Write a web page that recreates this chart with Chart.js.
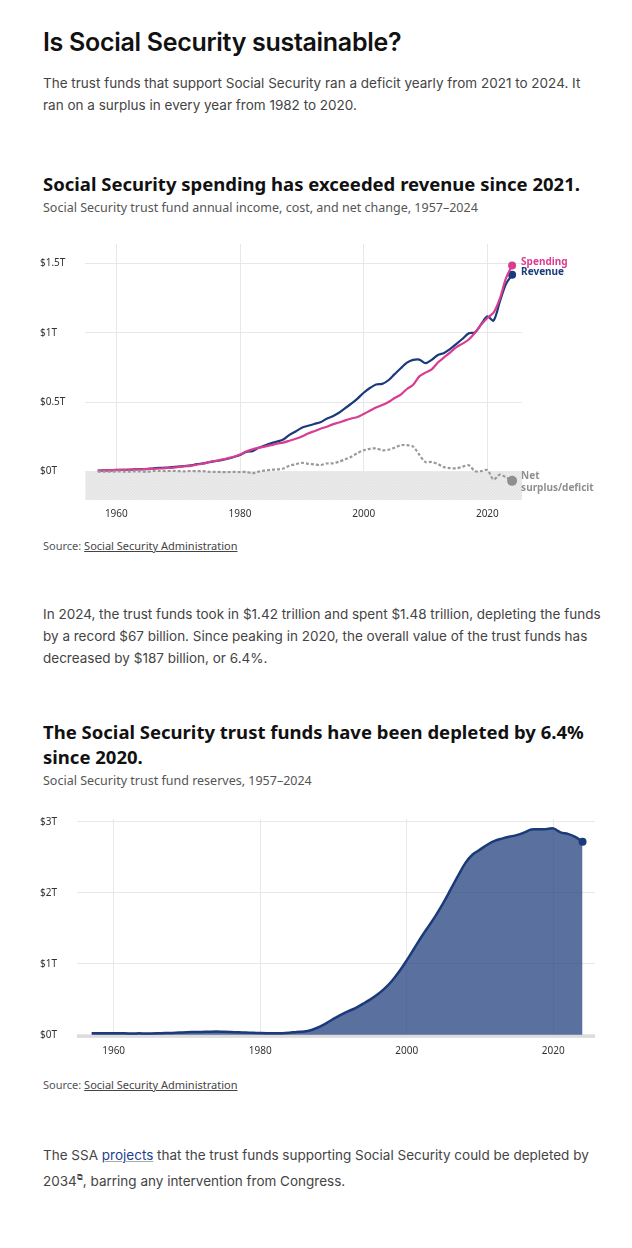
<!DOCTYPE html>
<html>
<head>
<meta charset="utf-8">
<script src="https://cdn.jsdelivr.net/npm/chart.js@4"></script>
<style>
  body { margin: 0; background: #fff; font-family: Inter, "Noto Sans", sans-serif; color: #222; }
  .page { width: 560px; margin-left: 43px; }
  h1 { font-size: 25px; font-weight: 600; margin: 27px 0 0; letter-spacing: -0.3px; color: #111; }
  p.txt { font-size: 13.5px; line-height: 22px; color: #444; margin: 12px 0 0; }
  h2 { font-family: "Noto Sans", sans-serif; font-size: 18.5px; font-weight: 700; margin: 0; line-height: 25px; color: #111; }
  .sub { font-family: "Noto Sans", sans-serif; font-size: 12.5px; color: #555; margin-top: 3px; }
  .src { font-family: "Noto Sans", sans-serif; font-size: 11px; color: #555; }
  .src u { color: #444; }
  .box { position: relative; margin-left: -3px; }
</style>
</head>
<body>
<div class="page">
  <h1>Is Social Security sustainable?</h1>
  <p class="txt" style="margin-top:15px">The trust funds that support Social Security ran a deficit yearly from 2021 to 2024. It ran on a surplus in every year from 1982 to 2020.</p>

  <h2 style="margin-top:55px">Social Security spending has exceeded revenue since 2021.</h2>
  <div class="sub">Social Security trust fund annual income, cost, and net change, 1957–2024</div>
  <div class="box" style="width:560px;height:300px;margin-top:12px"><canvas id="c1"></canvas></div>
  <div class="src" style="margin-top:10px">Source: <u>Social Security Administration</u></div>

  <p class="txt" style="margin-top:50px">In 2024, the trust funds took in $1.42 trillion and spent $1.48 trillion, depleting the funds by a record $67 billion. Since peaking in 2020, the overall value of the trust funds has decreased by $187 billion, or 6.4%.</p>

  <h2 style="margin-top:50px">The Social Security trust funds have been depleted by 6.4% since 2020.</h2>
  <div class="sub">Social Security trust fund reserves, 1957–2024</div>
  <div class="box" style="width:560px;height:262px;margin-top:14px"><canvas id="c2"></canvas></div>
  <div class="src" style="margin-top:12px">Source: <u>Social Security Administration</u></div>

  <p class="txt" style="margin-top:52px">The SSA <u style="color:#1f3f8f;text-decoration-color:#aaa">projects</u> that the trust funds supporting Social Security could be depleted by 2034<sup style="font-size:8px">⧉</sup>, barring any intervention from Congress.</p>
</div>

<script>
// 연도 1957–2024, 단위: 조 달러
const years = [];
for (let y = 1957; y <= 2024; y++) years.push(y);

const revenue = [
  .007,.008,.009,.012,.012,.013,.016,.017,.017,.024,.027,.028,.032,
  .036,.040,.044,.053,.059,.067,.075,.082,.092,.105,
  .119,.142,.147,.171,.187,.203,.216,.231,.264,.289,
  .316,.330,.343,.355,.381,.399,.424,.457,.489,.526,
  .568,.602,.628,.632,.658,.702,.745,.785,.805,.807,
  .781,.805,.840,.855,.884,.920,.957,.997,1.003,1.062,
  1.118,1.088,1.222,1.351,1.418
];
const spending = [
  .007,.008,.010,.011,.012,.014,.015,.016,.019,.020,.022,.025,.027,
  .033,.038,.040,.050,.056,.069,.077,.086,.096,.107,
  .123,.144,.160,.171,.180,.190,.201,.209,.222,.236,
  .253,.274,.291,.308,.323,.340,.353,.369,.382,.393,
  .415,.438,.461,.479,.501,.530,.555,.595,.625,.686,
  .713,.736,.786,.823,.859,.897,.922,.952,1.000,1.059,
  1.107,1.145,1.244,1.392,1.485
];
const net = [
  0,0,-.001,.001,0,-.001,.001,.001,-.002,.004,.005,.003,.005,
  .003,.002,.004,.003,.003,-.002,-.002,-.004,-.004,-.002,
  -.004,-.002,-.013,0,.007,.013,.015,.022,.042,.053,
  .063,.056,.052,.047,.058,.059,.071,.088,.107,.133,
  .153,.164,.167,.153,.157,.172,.190,.190,.180,.121,
  .068,.069,.054,.032,.025,.023,.035,.045,.003,.003,
  .011,-.057,-.022,-.041,-.067
];
const reserves = [
  .023,.023,.022,.022,.022,.021,.021,.021,.020,.022,.026,.028,.032,
  .038,.040,.042,.044,.046,.044,.041,.036,.032,.030,
  .026,.024,.023,.024,.031,.042,.047,.069,.109,.163,
  .225,.281,.331,.378,.436,.496,.567,.655,.763,.896,
  1.049,1.213,1.378,1.531,1.687,1.859,2.048,2.238,2.419,2.540,
  2.609,2.678,2.732,2.764,2.790,2.813,2.848,2.892,2.895,2.897,
  2.908,2.852,2.830,2.788,2.721
];
const xTicks = [1960, 1980, 2000, 2020];
const yTicks1 = [0, 0.5, 1, 1.5];
const yTicks2 = [0, 1, 2, 3];

const NAVY = '#1b3a7a', PINK = '#d93d92', GREY = '#8f8f8f';
const pts = arr => arr.map((v, i) => ({ x: years[i], y: v }));
const lastDot = r => years.map((_, i) => i === years.length - 1 ? r : 0);
const tlabel = v => '$' + v + 'T';

// 0 아래 빗금 영역
const hatchPlugin = {
  id: 'hatch',
  beforeDatasetsDraw(chart) {
    const { ctx, chartArea: a, scales: { y } } = chart;
    const y0 = y.getPixelForValue(0);
    ctx.save();
    ctx.fillStyle = '#ececec';
    ctx.fillRect(a.left, y0, a.right - a.left, a.bottom - y0);
    ctx.beginPath();
    ctx.rect(a.left, y0, a.right - a.left, a.bottom - y0);
    ctx.clip();
    ctx.strokeStyle = '#d6d6d6';
    ctx.lineWidth = 0.6;
    for (let x = a.left - 40; x < a.right + 40; x += 3) {
      ctx.beginPath(); ctx.moveTo(x, a.bottom); ctx.lineTo(x + 30, y0); ctx.stroke();
    }
    ctx.restore();
  }
};

// 끝점 라벨
const endLabels = {
  id: 'endLabels',
  afterDatasetsDraw(chart) {
    const { ctx, scales: { x, y } } = chart;
    const px = x.getPixelForValue(2024) + 9;
    ctx.save();
    ctx.font = 'bold 10px "Noto Sans", sans-serif';
    ctx.textBaseline = 'middle';
    ctx.fillStyle = PINK; ctx.fillText('Spending', px, y.getPixelForValue(spending[67]) - 3);
    ctx.fillStyle = NAVY; ctx.fillText('Revenue', px, y.getPixelForValue(revenue[67]) - 3);
    ctx.fillStyle = GREY;
    ctx.fillText('Net', px, y.getPixelForValue(net[67]) - 5);
    ctx.fillText('surplus/deficit', px, y.getPixelForValue(net[67]) + 7);
    ctx.restore();
  }
};

function xScale(max) {
  return {
    type: 'linear', min: 1955, max: max,
    afterBuildTicks: s => { s.ticks = xTicks.map(v => ({ value: v })); },
    ticks: { color: '#333', font: { family: 'Noto Sans', size: 10 }, callback: v => String(v), padding: 8 },
    grid: { color: '#e8e8e8', drawTicks: false },
    border: { display: false }
  };
}
function yScale(min, max, tk) {
  return {
    min: min, max: max,
    afterBuildTicks: s => { s.ticks = tk.map(v => ({ value: v })); },
    ticks: { color: '#333', font: { family: 'Noto Sans', size: 10 }, callback: tlabel, crossAlign: 'far', padding: 10 },
    grid: { color: '#e8e8e8', drawTicks: false },
    border: { display: false }
  };
}
const base = {
  responsive: true, maintainAspectRatio: false, animation: false,
  plugins: { legend: { display: false }, tooltip: { enabled: false } },
};

new Chart(document.getElementById('c1'), {
  type: 'line',
  data: { datasets: [
    { data: pts(net), borderColor: '#9a9a9a', borderWidth: 2.2, borderDash: [3, 2], pointRadius: lastDot(5), pointBackgroundColor: GREY, pointBorderWidth: 0, tension: 0.3 },
    { data: pts(spending), borderColor: PINK, borderWidth: 2.2, pointRadius: lastDot(4), pointBackgroundColor: PINK, pointBorderWidth: 0, tension: 0.3 },
    { data: pts(revenue), borderColor: NAVY, borderWidth: 2.2, pointRadius: lastDot(4), pointBackgroundColor: NAVY, pointBorderWidth: 0, tension: 0.3 }
  ]},
  options: { ...base, layout: { padding: { right: 78, top: 4 } },
    scales: { x: xScale(2025.6), y: yScale(-0.205, 1.64, yTicks1) } },
  plugins: [hatchPlugin, endLabels]
});

new Chart(document.getElementById('c2'), {
  type: 'line',
  data: { datasets: [
    { data: pts(reserves), borderColor: NAVY, borderWidth: 2.5, fill: 'origin', backgroundColor: 'rgba(27,58,122,0.72)',
      pointRadius: lastDot(4), pointBackgroundColor: NAVY, pointBorderWidth: 0, tension: 0.35 }
  ]},
  options: { ...base, layout: { padding: { right: 5, top: 4 } },
    scales: { x: xScale(2025.7), y: yScale(-0.03, 3.04, yTicks2) } },
  plugins: [{
    id: 'baseLine',
    beforeDatasetsDraw(chart) {
      const { ctx, chartArea: a, scales: { y } } = chart;
      const y0 = y.getPixelForValue(0);
      ctx.save(); ctx.fillStyle = '#dcdcdc';
      ctx.fillRect(a.left, y0, a.right - a.left, 3); ctx.restore();
    }
  }]
});
</script>
</body>
</html>
